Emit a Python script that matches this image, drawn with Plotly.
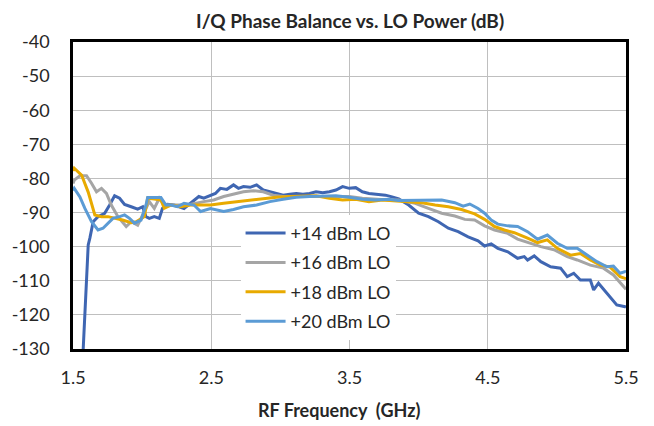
import plotly.graph_objects as go

# +14 dBm LO
f14 = [1.55, 1.574, 1.598, 1.610, 1.622, 1.646, 1.681, 1.729, 1.765, 1.801, 1.837, 1.873, 1.921, 1.968,
       2.004, 2.028, 2.052, 2.088, 2.124, 2.147, 2.183, 2.231, 2.303, 2.351, 2.410, 2.446, 2.494, 2.530,
       2.566, 2.613, 2.661, 2.697, 2.733, 2.781, 2.828, 2.876, 2.924, 2.972, 3.020, 3.068, 3.115, 3.163,
       3.211, 3.258, 3.306, 3.355, 3.402, 3.450, 3.498, 3.545, 3.593, 3.641, 3.677, 3.713, 3.760, 3.808,
       3.856, 3.928, 4.000, 4.071, 4.143, 4.215, 4.286, 4.358, 4.430, 4.477, 4.525, 4.573, 4.645, 4.716,
       4.764, 4.788, 4.836, 4.884, 4.955, 5.027, 5.075, 5.122, 5.170, 5.242, 5.266, 5.301, 5.362, 5.433,
       5.493, 5.50]
v14 = [-150, -130, -110.7, -99.5, -97.5, -92.7, -91.2, -90.2, -87.8, -85.1, -85.8, -87.6, -88.3, -89.0,
       -88.3, -91.2, -91.7, -91.2, -91.7, -88.8, -87.6, -87.8, -88.8, -87.3, -85.3, -85.8, -84.9, -84.4,
       -82.9, -83.2, -81.9, -82.9, -82.4, -82.6, -81.9, -83.4, -83.9, -84.4, -84.9, -84.6, -84.4, -84.6,
       -84.4, -83.9, -84.2, -83.9, -83.4, -82.4, -82.9, -82.7, -83.9, -84.4, -84.6, -84.6, -84.9, -85.4,
       -86.0, -87.8, -90.2, -91.2, -92.7, -94.6, -95.6, -97.1, -98.3, -99.8, -99.2, -100.5, -101.5, -103.4,
       -102.9, -103.9, -102.7, -104.4, -105.9, -106.3, -108.8, -107.8, -109.8, -109.8, -112.7, -110.7, -113.7, -117.1,
       -117.6, -117.8]

# +16 dBm LO
f16 = [1.50, 1.509, 1.550, 1.598, 1.634, 1.670, 1.706, 1.742, 1.777, 1.825, 1.885, 1.921, 1.968, 2.016,
       2.052, 2.088, 2.124, 2.160, 2.231, 2.327, 2.446, 2.518, 2.590, 2.661, 2.733, 2.805, 2.876, 2.948,
       3.020, 3.115, 3.211, 3.306, 3.402, 3.498, 3.593, 3.689, 3.785, 3.856, 3.975, 4.071, 4.167, 4.262,
       4.334, 4.405, 4.477, 4.549, 4.645, 4.716, 4.812, 4.884, 4.979, 5.075, 5.147, 5.242, 5.337, 5.409,
       5.493, 5.50]
v16 = [-81.5, -80.5, -79.2, -79.2, -81.4, -83.9, -82.9, -84.4, -87.8, -91.2, -94.1, -92.7, -93.7, -89.7,
       -86.8, -88.8, -85.8, -87.8, -87.8, -87.8, -86.8, -86.3, -85.3, -84.6, -83.9, -83.6, -83.9, -84.9,
       -85.3, -85.3, -85.3, -85.3, -85.3, -85.3, -85.8, -86.1, -86.3, -86.3, -87.3, -88.8, -90.2, -91.0,
       -92.0, -92.2, -93.9, -95.1, -96.1, -97.8, -99.0, -100.0, -100.9, -102.9, -103.9, -105.4, -106.3, -108.3,
       -112.2, -112.5]

# +18 dBm LO
f18 = [1.50, 1.509, 1.562, 1.610, 1.658, 1.706, 1.753, 1.801, 1.858, 1.921, 1.957, 2.016, 2.040, 2.088,
       2.136, 2.160, 2.208, 2.279, 2.351, 2.398, 2.494, 2.590, 2.685, 2.781, 2.876, 2.972, 3.068, 3.163,
       3.258, 3.354, 3.450, 3.545, 3.641, 3.737, 3.832, 3.928, 4.023, 4.119, 4.215, 4.310, 4.405, 4.477,
       4.549, 4.620, 4.692, 4.788, 4.860, 4.931, 5.003, 5.099, 5.170, 5.242, 5.314, 5.385, 5.457, 5.493,
       5.50]
v18 = [-77.8, -77.0, -79.0, -84.0, -90.7, -91.2, -91.2, -91.6, -92.2, -93.0, -92.7, -91.2, -85.8, -86.0,
       -86.3, -88.7, -87.8, -88.3, -87.8, -87.8, -87.8, -87.3, -86.8, -86.5, -85.8, -85.5, -85.3, -85.3,
       -85.1, -85.8, -86.3, -86.1, -86.8, -86.3, -86.5, -86.8, -87.1, -87.8, -88.3, -89.1, -90.4, -92.0,
       -94.1, -95.1, -95.9, -97.5, -98.8, -98.0, -100.5, -102.5, -102.0, -103.9, -105.4, -106.0, -108.8, -109.3,
       -109.4]

# +20 dBm LO
f20 = [1.50, 1.509, 1.550, 1.586, 1.634, 1.681, 1.717, 1.753, 1.789, 1.837, 1.873, 1.909, 1.944, 1.992,
       2.028, 2.040, 2.088, 2.136, 2.172, 2.208, 2.255, 2.303, 2.375, 2.423, 2.494, 2.590, 2.661, 2.733,
       2.828, 2.924, 3.020, 3.115, 3.211, 3.306, 3.402, 3.498, 3.593, 3.689, 3.785, 3.856, 3.975, 4.095,
       4.167, 4.262, 4.322, 4.370, 4.430, 4.477, 4.525, 4.573, 4.645, 4.716, 4.788, 4.860, 4.931, 5.003,
       5.075, 5.147, 5.218, 5.290, 5.362, 5.409, 5.457, 5.493, 5.50]
v20 = [-83.5, -82.9, -85.4, -88.8, -92.7, -95.1, -94.6, -93.1, -91.7, -91.2, -90.7, -91.7, -93.1, -92.2,
       -87.8, -85.6, -85.6, -85.6, -87.8, -87.8, -88.3, -87.3, -87.8, -89.7, -88.8, -89.7, -89.1, -88.3,
       -87.8, -86.8, -86.1, -85.5, -85.3, -85.1, -85.1, -85.5, -86.1, -86.3, -86.1, -86.5, -86.5, -86.3,
       -86.3, -87.1, -88.1, -87.5, -88.8, -90.2, -92.2, -93.4, -93.9, -94.1, -95.6, -97.8, -96.6, -99.0,
       -100.5, -100.5, -102.5, -104.4, -105.9, -105.7, -107.8, -107.3, -107.5]

series_names = ["+14 dBm LO", "+16 dBm LO", "+18 dBm LO", "+20 dBm LO"]
series_colors = ["#3F66B2", "#A5A5A5", "#E8AA00", "#5B9BD5"]
xs = [f14, f16, f18, f20]
ys = [v14, v16, v18, v20]

x_ticks = [1.5, 2.5, 3.5, 4.5, 5.5]
y_ticks = list(range(-130, -39, 10))

FONT = "Lato, 'Open Sans', sans-serif"
TXT = "#262626"

fig = go.Figure()
for i, (name, col, x, y) in enumerate(zip(series_names, series_colors, xs, ys)):
    fig.add_trace(go.Scatter(x=x, y=y, mode="lines", name=name, legendgroup=str(i),
                             line=dict(color=col, width=3, shape="linear")))

fig.update_layout(
    width=654, height=426,
    margin=dict(l=68, r=28, t=42, b=77),
    paper_bgcolor="white", plot_bgcolor="white",
    font=dict(family=FONT, color=TXT, size=18),
    showlegend=True,
    legend=dict(x=0.303, y=0.437, xanchor="left", yanchor="top",
                bgcolor="white", borderwidth=0, tracegroupgap=3, itemwidth=40,
                font=dict(size=18, color=TXT)),
)
fig.add_annotation(text="<b>I/Q Phase Balance vs. LO Power (dB)</b>", x=0.5, y=1 + (42 - 21) / 307.0,
                   xref="paper", yref="paper", showarrow=False, yanchor="middle",
                   font=dict(size=19, color=TXT))
fig.add_annotation(text="<b>RF Frequency  (GHz)</b>", x=(336 - 68) / 558.0, y=-(410 - 349) / 307.0,
                   xref="paper", yref="paper", showarrow=False, yanchor="middle",
                   font=dict(size=18, color=TXT))

fig.update_xaxes(range=[1.5, 5.5], tickvals=x_ticks, ticktext=[str(t) for t in x_ticks],
                 showgrid=True, gridcolor="#BFBFBF", gridwidth=1,
                 showline=True, mirror=True, linecolor="black", linewidth=2.5,
                 ticks="", ticklabelstandoff=11, zeroline=False)
fig.update_yaxes(range=[-130, -40], tickvals=y_ticks, ticktext=[str(t) for t in y_ticks],
                 showgrid=True, gridcolor="#BFBFBF", gridwidth=1,
                 showline=True, mirror=True, linecolor="black", linewidth=2.5,
                 ticks="", ticklabelstandoff=17, zeroline=False)

fig.write_html("out.html", config={"displayModeBar": False},
               post_script="document.body.style.margin='0';document.body.style.padding='0';")
